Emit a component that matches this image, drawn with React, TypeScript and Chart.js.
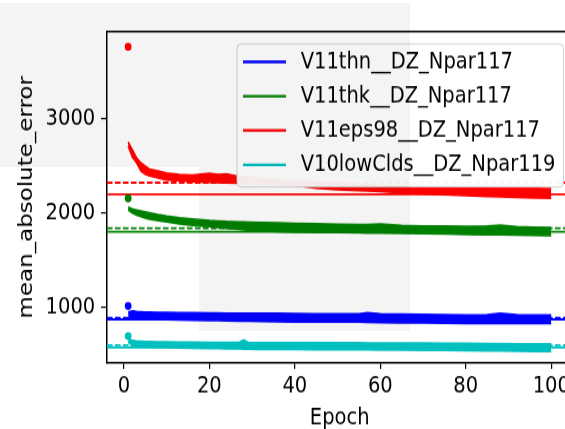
import React, { useEffect, useRef } from 'react';
import { Chart, registerables } from 'chart.js';

Chart.register(...registerables);

// ---- data ----
const seriesNames = ['V11thn__DZ_Npar117', 'V11thk__DZ_Npar117', 'V11eps98__DZ_Npar117', 'V10lowClds__DZ_Npar119'];
const seriesColors = ['#0000ff', '#008000', '#ff0000', '#00bfbf'];

const epochs = [1, 2, 3, 4, 5, 6, 8, 10, 13, 16, 20, 22, 24, 27, 28, 29, 32, 36, 40, 45, 50, 55, 57, 60, 65, 70, 75, 80, 85, 88, 92, 96, 100];

const blueUpper = [951, 962, 956, 953, 951, 950, 948, 946, 944, 942, 940, 939, 938, 937, 937, 937, 937, 936, 935, 932, 930, 931, 942, 930, 927, 924, 921, 919, 922, 936, 923, 920, 919];
const blueLower = [887, 887, 882, 879, 876, 874, 872, 870, 866, 863, 861, 859, 857, 855, 854, 853, 850, 848, 845, 845, 845, 844, 843, 839, 836, 834, 832, 830, 830, 829, 829, 829, 829];

const greenUpper = [2063, 2045, 2034, 2023, 2013, 2003, 1985, 1970, 1952, 1940, 1923, 1918, 1912, 1908, 1906, 1905, 1900, 1897, 1893, 1888, 1882, 1878, 1880, 1886, 1870, 1864, 1862, 1860, 1864, 1874, 1856, 1852, 1848];
const greenLower = [2034, 2002, 1981, 1965, 1949, 1938, 1920, 1907, 1888, 1872, 1859, 1850, 1840, 1830, 1825, 1822, 1814, 1806, 1800, 1797, 1795, 1792, 1791, 1790, 1787, 1784, 1779, 1774, 1771, 1770, 1768, 1765, 1761];

const redUpper = [2756, 2671, 2586, 2533, 2501, 2469, 2448, 2427, 2412, 2404, 2425, 2410, 2418, 2388, 2385, 2382, 2370, 2358, 2345, 2330, 2315, 2304, 2300, 2294, 2285, 2278, 2272, 2267, 2266, 2265, 2264, 2263, 2262];
const redLower = [2713, 2597, 2533, 2448, 2416, 2395, 2374, 2352, 2342, 2335, 2328, 2325, 2321, 2318, 2316, 2315, 2310, 2304, 2298, 2265, 2250, 2240, 2236, 2230, 2216, 2205, 2196, 2188, 2179, 2174, 2169, 2163, 2158];

const cyanUpper = [672, 648, 643, 640, 638, 636, 634, 633, 631, 629, 627, 627, 626, 628, 655, 628, 625, 625, 625, 624, 623, 623, 622, 622, 621, 620, 618, 617, 615, 614, 613, 612, 611];
const cyanLower = [633, 590, 585, 582, 580, 578, 576, 574, 570, 567, 564, 562, 561, 559, 558, 558, 555, 554, 553, 552, 550, 549, 549, 548, 546, 545, 543, 542, 539, 537, 535, 533, 532];

const firstEpochValues = [1015, 2158, 3767, 696];
const dashedRefValues = [890, 1840, 2324, 598];
const solidRefValues = [872, 1804, 2201, 575];

const xTicks = [0, 20, 40, 60, 80, 100];
const yTicks = [1000, 2000, 3000];
const X_MIN = -3.95;
const X_MAX = 104.95;
const Y_MIN = 409;
const Y_MAX = 3930;

// ---- layout ----
const CW = 600;
const CH = 364;
const SY = 429 / CH;
const FONT_FAMILY = "'DejaVu Sans', sans-serif";
const FS = 19.5;

const uppers = [blueUpper, greenUpper, redUpper, cyanUpper];
const lowers = [blueLower, greenLower, redLower, cyanLower];

const spinePlugin = {
  id: 'spines',
  afterDatasetsDraw(chart: any) {
    const { ctx, chartArea } = chart;
    ctx.save();
    ctx.strokeStyle = '#000';
    ctx.lineWidth = 1.5;
    ctx.beginPath();
    ctx.moveTo(chartArea.left, chartArea.top);
    ctx.lineTo(chartArea.right, chartArea.top);
    ctx.lineTo(chartArea.right, chartArea.bottom);
    ctx.stroke();
    ctx.restore();
  },
};

const legendPlugin = {
  id: 'mplLegend',
  afterDraw(chart: any) {
    const { ctx, chartArea } = chart;
    ctx.save();
    ctx.font = `${FS}px ${FONT_FAMILY}`;
    const left = chartArea.left + 130;
    const top = chartArea.top + 10.5;
    const rowH = 29.1;
    const firstRow = 15.3;
    const textX = left + 63.7;
    const maxW = Math.max(...seriesNames.map((n) => ctx.measureText(n).width));
    const right = textX + maxW + 8;
    const bottom = top + 121.4;
    const r = 4;
    ctx.beginPath();
    ctx.moveTo(left + r, top);
    ctx.lineTo(right - r, top);
    ctx.quadraticCurveTo(right, top, right, top + r);
    ctx.lineTo(right, bottom - r);
    ctx.quadraticCurveTo(right, bottom, right - r, bottom);
    ctx.lineTo(left + r, bottom);
    ctx.quadraticCurveTo(left, bottom, left, bottom - r);
    ctx.lineTo(left, top + r);
    ctx.quadraticCurveTo(left, top, left + r, top);
    ctx.closePath();
    ctx.fillStyle = 'rgba(255,255,255,0.96)';
    ctx.fill();
    ctx.strokeStyle = 'rgba(204,204,204,0.9)';
    ctx.lineWidth = 1;
    ctx.stroke();
    seriesNames.forEach((name, i) => {
      const y = top + firstRow + i * rowH;
      ctx.strokeStyle = seriesColors[i];
      ctx.lineWidth = 2.3;
      ctx.beginPath();
      ctx.moveTo(left + 6, y);
      ctx.lineTo(left + 49, y);
      ctx.stroke();
      ctx.fillStyle = '#000';
      ctx.textAlign = 'left';
      ctx.textBaseline = 'middle';
      ctx.fillText(name, textX, y);
    });
    ctx.restore();
  },
};

export default function App() {
  const ref = useRef<HTMLCanvasElement>(null);

  useEffect(() => {
    const canvas = ref.current;
    if (!canvas) return;
    const datasets: any[] = [];
    seriesNames.forEach((name, i) => {
      const color = seriesColors[i];
      datasets.push({
        label: name + ' dashed',
        data: [{ x: X_MIN, y: dashedRefValues[i] }, { x: X_MAX, y: dashedRefValues[i] }],
        borderColor: color,
        borderWidth: 1.8,
        borderDash: [5.5, 2.5],
        pointRadius: 0,
        fill: false,
        order: 3,
      });
      datasets.push({
        label: name + ' solid',
        data: [{ x: X_MIN, y: solidRefValues[i] }, { x: X_MAX, y: solidRefValues[i] }],
        borderColor: color,
        borderWidth: 1.8,
        pointRadius: 0,
        fill: false,
        order: 3,
      });
      datasets.push({
        label: name + ' upper',
        data: epochs.map((e, j) => ({ x: e, y: uppers[i][j] })),
        borderColor: color,
        backgroundColor: color,
        borderWidth: 1.6,
        pointRadius: 0,
        fill: false,
        order: 2,
      });
      datasets.push({
        label: name,
        data: epochs.map((e, j) => ({ x: e, y: lowers[i][j] })),
        borderColor: color,
        backgroundColor: color,
        borderWidth: 1.6,
        pointRadius: 0,
        fill: '-1',
        order: 2,
      });
      datasets.push({
        label: name + ' first',
        data: [{ x: 1, y: firstEpochValues[i] }],
        showLine: false,
        pointRadius: 3.4,
        pointBackgroundColor: color,
        pointBorderWidth: 0,
        borderColor: color,
        order: 1,
      });
    });

    const tickFont = { family: FONT_FAMILY, size: FS };
    const chart = new Chart(canvas, {
      type: 'line',
      data: { datasets },
      options: {
        animation: false,
        responsive: false,
        devicePixelRatio: 1,
        layout: { padding: { top: 26.7, right: CW - 572.4, left: 0, bottom: 0 } },
        plugins: {
          legend: { display: false },
          tooltip: { enabled: false },
        },
        scales: {
          x: {
            type: 'linear',
            min: X_MIN,
            max: X_MAX,
            afterBuildTicks: (s: any) => {
              s.ticks = xTicks.map((v) => ({ value: v }));
            },
            afterFit: (s: any) => {
              s.height = 56;
            },
            grid: { drawOnChartArea: false, drawTicks: true, tickLength: 5, color: '#000', lineWidth: 1.2 },
            border: { display: true, color: '#000', width: 1.5 },
            ticks: {
              color: '#000',
              font: tickFont,
              padding: 3.6,
              maxRotation: 0,
              autoSkip: false,
              callback: (v: any) => String(v),
            },
            title: {
              display: true,
              text: 'Epoch',
              color: '#000',
              font: { family: FONT_FAMILY, size: FS, lineHeight: 0.95 },
              padding: { top: 0, bottom: 0 },
            },
          },
          y: {
            type: 'linear',
            min: Y_MIN,
            max: Y_MAX,
            afterBuildTicks: (s: any) => {
              s.ticks = yTicks.map((v) => ({ value: v }));
            },
            afterFit: (s: any) => {
              s.width = 107;
            },
            grid: { drawOnChartArea: false, drawTicks: true, tickLength: 6, color: '#000', lineWidth: 1.2 },
            border: { display: true, color: '#000', width: 1.5 },
            ticks: {
              color: '#000',
              font: tickFont,
              padding: 5.8,
              autoSkip: false,
              callback: (v: any) => String(v),
            },
            title: {
              display: true,
              text: 'mean_absolute_error',
              color: '#000',
              font: { family: FONT_FAMILY, size: FS, lineHeight: 1.2 },
              padding: { top: 15.3, bottom: 0 },
            },
          },
        },
      } as any,
      plugins: [spinePlugin, legendPlugin],
    });
    return () => chart.destroy();
  }, []);

  const overlay = 'rgba(0,0,0,0.045)';
  return (
    <div style={{ position: 'fixed', left: 0, top: 0, width: 565, height: 429, overflow: 'hidden', background: '#fff' }}>
      <div style={{ position: 'absolute', left: 0, top: 0, width: CW, height: CH, transform: `scaleY(${SY})`, transformOrigin: '0 0' }}>
        <canvas ref={ref} width={CW} height={CH} style={{ display: 'block', width: CW, height: CH }} />
      </div>
      <div style={{ position: 'absolute', left: 0, top: 3, width: 410, height: 164, background: overlay, pointerEvents: 'none' }} />
      <div style={{ position: 'absolute', left: 199, top: 167, width: 211, height: 164, background: overlay, pointerEvents: 'none' }} />
    </div>
  );
}
